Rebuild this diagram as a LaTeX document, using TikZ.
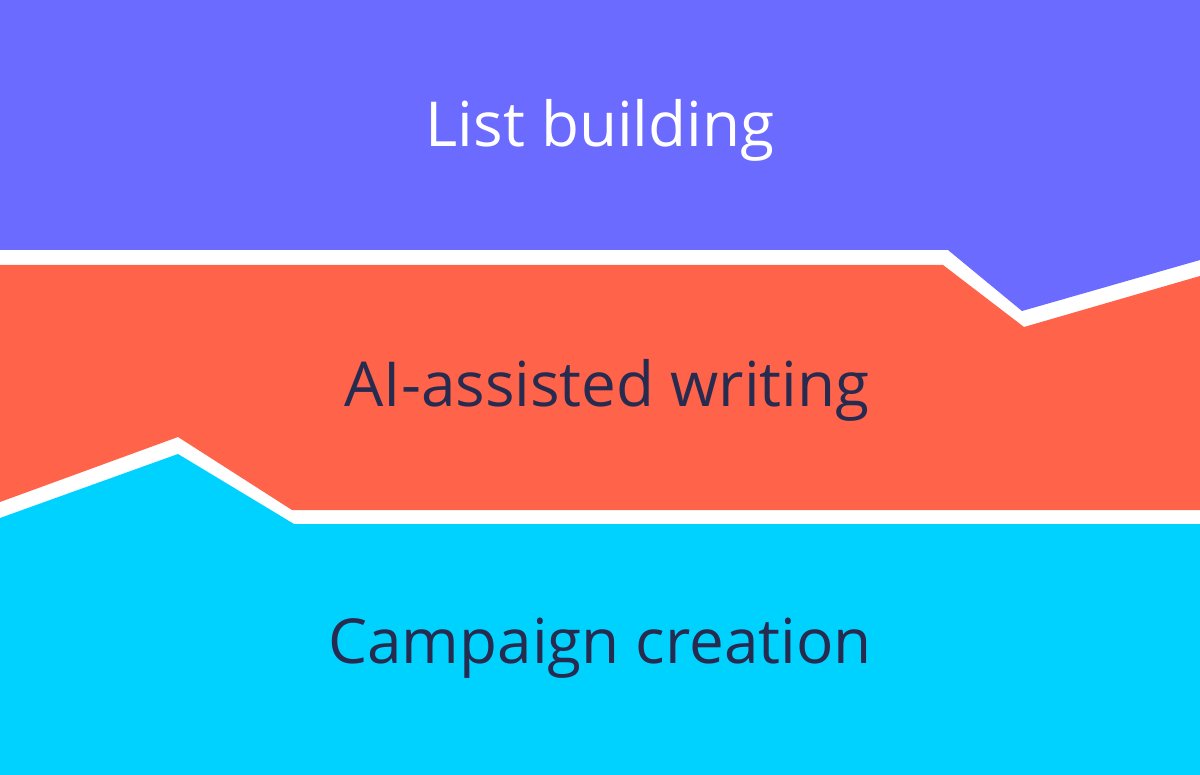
\documentclass[tikz,border=0pt]{standalone}
\usepackage{fontspec}
\setmainfont{Open Sans}
\definecolor{pur}{HTML}{6B6BFF}
\definecolor{redc}{HTML}{FF6349}
\definecolor{cya}{HTML}{00D2FF}
\definecolor{ink}{HTML}{262B4F}
\begin{document}
\begin{tikzpicture}[x=1pt,y=-1pt,lbl/.style={font=\fontsize{62}{70}\selectfont,inner sep=0pt}]
\useasboundingbox (0,0) rectangle (1200,775);
\fill[white] (0,0) rectangle (1200,775);
\fill[pur] (0,0) -- (1200,0) -- (1200,260) -- (1022,311) -- (948,250) -- (0,250) -- cycle;
\fill[redc] (0,265) -- (943,265) -- (1024,327) -- (1200,276) -- (1200,510) -- (292,510) -- (178,437) -- (0,502) -- cycle;
\fill[cya] (0,518) -- (178,454) -- (294,524) -- (1200,524) -- (1200,775) -- (0,775) -- cycle;
\node[lbl,text=white] (a) at (600,130) {List building};
\node[lbl,text=ink] (b) at (607,390) {AI-assisted writing};
\node[lbl,text=ink] (c) at (600,648) {Campaign creation};
\end{tikzpicture}
\end{document}
